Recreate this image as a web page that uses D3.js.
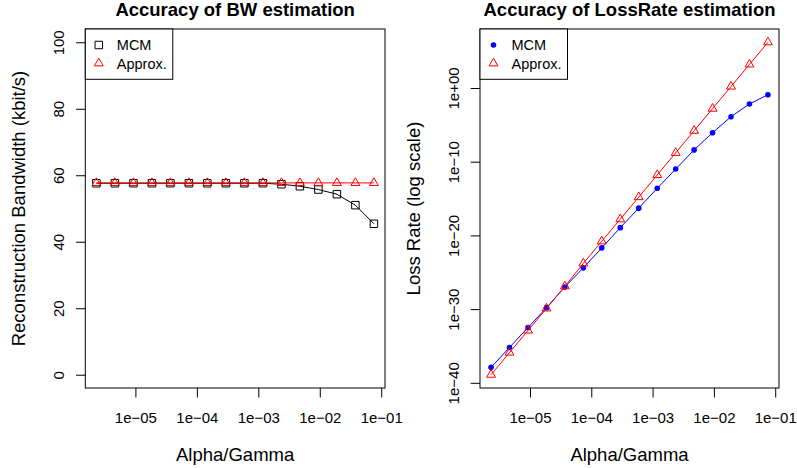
<!DOCTYPE html>
<html>
	<head>
		<meta charset="UTF-8">
		<title>Accuracy of BW and LossRate estimation</title>
		<script src="https://d3js.org/d3.v7.min.js" charset="utf-8"></script>
		<style>
			body {
				margin: 0;
				background: white;
			}
			svg text {
				font-family: "Liberation Sans", Arial, Helvetica, sans-serif;
				fill: black;
			}
			.tick-label {
				font-size: 15px;
			}
			.axis-title {
				font-size: 18.5px;
			}
			.main-title {
				font-size: 18.5px;
				font-weight: bold;
			}
			.legend-text {
				font-size: 14.5px;
			}
		</style>
	</head>
<body>
<div id="chart"></div>

<script type="text/javascript">
// x values (Alpha/Gamma), each step doubles
var alpha = [2.32e-6, 4.64e-6, 9.28e-6, 1.86e-5, 3.71e-5, 7.42e-5, 1.48e-4, 2.97e-4,
             5.94e-4, 1.19e-3, 2.38e-3, 4.75e-3, 9.5e-3, 1.9e-2, 3.8e-2, 7.6e-2];

// reconstruction bandwidth (kbit/s)
var bwMCM    = [57.6, 57.6, 57.6, 57.6, 57.6, 57.6, 57.6, 57.6,
                57.6, 57.6, 57.3, 56.7, 55.7, 54.3, 51.0, 45.4];
var bwApprox = [57.7, 57.7, 57.7, 57.7, 57.7, 57.7, 57.7, 57.7,
                57.7, 57.7, 57.7, 57.7, 57.7, 57.7, 57.7, 57.7];

// loss rate
var lossMCM    = [1.26e-38, 6.3e-36, 3.16e-33, 1.58e-30, 1.0e-27, 3.98e-25, 2.0e-22, 1.12e-19,
                  5.0e-17, 2.5e-14, 1.0e-11, 3.98e-9, 8.5e-7, 1.26e-4, 6.8e-3, 0.123];
var lossApprox = [1.26e-39, 1.26e-36, 1.26e-33, 1.26e-30, 1.26e-27, 1.58e-24, 1.58e-21, 1.58e-18,
                  1.58e-15, 1.58e-12, 1.58e-9, 1.58e-6, 1.58e-3, 1.58, 1.58e3, 1.58e6];

// tick values and labels
var xTicks = [1e-5, 1e-4, 1e-3, 1e-2, 1e-1];
var xTickLabels = ["1e\u221205", "1e\u221204", "1e\u221203", "1e\u221202", "1e\u221201"];
var bwTicks = [0, 20, 40, 60, 80, 100];
var bwTickLabels = ["0", "20", "40", "60", "80", "100"];
var lossTicks = [1e-40, 1e-30, 1e-20, 1e-10, 1];
var lossTickLabels = ["1e\u221240", "1e\u221230", "1e\u221220", "1e\u221210", "1e+00"];

var legendLabels = ["MCM", "Approx."];

var W = 797, H = 468;

var svg = d3.select("#chart").append("svg")
			.attr("width", W)
			.attr("height", H);

// R style 4% extension of a log range
function logExtent(vals) {
	var lo = Math.log10(d3.min(vals)), hi = Math.log10(d3.max(vals));
	var pad = (hi - lo) * 0.04;
	return [Math.pow(10, lo - pad), Math.pow(10, hi + pad)];
}

function marker(g, type, color) {
	if (type == "square") {
		g.append("path")
			.attr("d", d3.symbol(d3.symbolSquare, 56)())
			.attr("fill", "none")
			.attr("stroke", color)
			.attr("stroke-width", 1);
	} else if (type == "triangle") {
		g.append("path")
			.attr("d", d3.symbol(d3.symbolTriangle, 34)())
			.attr("fill", "none")
			.attr("stroke", color)
			.attr("stroke-width", 1);
	} else {
		g.append("circle")
			.attr("r", 2.8)
			.attr("fill", color);
	}
}

function drawPanel(p) {
	var g = svg.append("g");

	var x = d3.scaleLog().domain(logExtent(alpha)).range([p.x0, p.x1]);
	var y = p.yScale.range([p.y1, p.y0]);

	// series
	p.series.forEach(function(s) {
		var line = d3.line()
					 .x(function(d, i) { return x(alpha[i]); })
					 .y(function(d) { return y(d); });
		g.append("path")
			.datum(s.values)
			.attr("d", line)
			.attr("fill", "none")
			.attr("stroke", s.color)
			.attr("stroke-width", 1);
		g.selectAll(null)
			.data(s.values)
			.enter().append("g")
			.attr("transform", function(d, i) { return "translate(" + x(alpha[i]) + "," + y(d) + ")"; })
			.each(function() { marker(d3.select(this), s.shape, s.color); });
	});

	// x axis
	var xAxis = g.append("g")
				 .attr("transform", "translate(0," + p.y1 + ")")
				 .call(d3.axisBottom(x)
				 		.tickValues(xTicks)
				 		.tickFormat(function(d, i) { return xTickLabels[i]; })
				 		.tickSize(9.5)
				 		.tickSizeOuter(0));
	xAxis.select(".domain").remove();
	xAxis.selectAll(".tick line").attr("stroke", "black");
	xAxis.selectAll(".tick text")
		 .attr("class", "tick-label")
		 .attr("y", 34.7)
		 .attr("dy", null);
	xAxis.attr("font-size", null).attr("font-family", null);

	// y axis
	var yAxis = g.append("g")
				 .attr("transform", "translate(" + p.x0 + ",0)")
				 .call(d3.axisLeft(y)
				 		.tickValues(p.yTicks)
				 		.tickFormat(function(d, i) { return p.yTickLabels[i]; })
				 		.tickSize(9.3)
				 		.tickSizeOuter(0));
	yAxis.select(".domain").remove();
	yAxis.selectAll(".tick line").attr("stroke", "black");
	yAxis.selectAll(".tick text")
		 .attr("class", "tick-label")
		 .attr("x", null)
		 .attr("dy", null)
		 .attr("text-anchor", "middle")
		 .attr("transform", "translate(-21.5,0) rotate(-90)");
	yAxis.attr("font-size", null).attr("font-family", null);

	// box
	g.append("rect")
		.attr("x", p.x0)
		.attr("y", p.y0)
		.attr("width", p.x1 - p.x0)
		.attr("height", p.y1 - p.y0)
		.attr("fill", "none")
		.attr("stroke", "black")
		.attr("stroke-width", 1);

	var cx = (p.x0 + p.x1) / 2, cy = (p.y0 + p.y1) / 2;

	g.append("text")
		.attr("class", "main-title")
		.attr("x", cx)
		.attr("y", 16)
		.attr("text-anchor", "middle")
		.text(p.title);

	g.append("text")
		.attr("class", "axis-title")
		.attr("x", cx)
		.attr("y", 460.7)
		.attr("text-anchor", "middle")
		.text("Alpha/Gamma");

	g.append("text")
		.attr("class", "axis-title")
		.attr("text-anchor", "middle")
		.attr("transform", "translate(" + p.yLabelX + "," + cy + ") rotate(-90)")
		.text(p.yLabel);

	// legend, top left
	var leg = g.append("g");
	var legBox = leg.append("rect")
					.attr("x", p.x0)
					.attr("y", p.y0)
					.attr("height", 50.3)
					.attr("fill", "white")
					.attr("stroke", "black")
					.attr("stroke-width", 1);
	var maxLen = 0;
	p.series.forEach(function(s, i) {
		var ry = p.y0 + 16 + i * 18.3;
		var m = leg.append("g").attr("transform", "translate(" + (p.x0 + 13.5) + "," + ry + ")");
		marker(m, s.shape, s.color);
		var t = leg.append("text")
				   .attr("class", "legend-text")
				   .attr("x", p.x0 + 31.5)
				   .attr("y", ry + 5.2)
				   .text(legendLabels[i]);
		maxLen = Math.max(maxLen, t.node().getComputedTextLength());
	});
	legBox.attr("width", 31.5 + maxLen + 6);
}

drawPanel({
	x0: 85.3, x1: 385, y0: 29, y1: 388,
	yScale: d3.scaleLinear().domain([-4, 104]),
	yTicks: bwTicks,
	yTickLabels: bwTickLabels,
	title: "Accuracy of BW estimation",
	yLabel: "Reconstruction Bandwidth (kbit/s)",
	yLabelX: 25,
	series: [
		{values: bwMCM, color: "black", shape: "square"},
		{values: bwApprox, color: "#ff0000", shape: "triangle"}
	]
});

drawPanel({
	x0: 480, x1: 779, y0: 29, y1: 388,
	yScale: d3.scaleLog().domain(logExtent(lossMCM.concat(lossApprox))),
	yTicks: lossTicks,
	yTickLabels: lossTickLabels,
	title: "Accuracy of LossRate estimation",
	yLabel: "Loss Rate (log scale)",
	yLabelX: 420,
	series: [
		{values: lossMCM, color: "#0000ff", shape: "dot"},
		{values: lossApprox, color: "#ff0000", shape: "triangle"}
	]
});
</script>
</body>
</html>
